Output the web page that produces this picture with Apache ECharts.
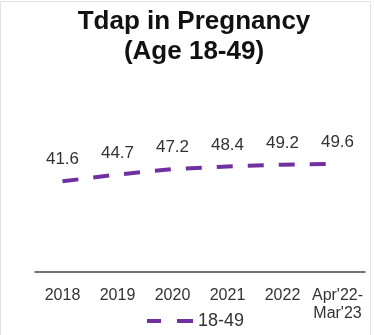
<!DOCTYPE html>
<html>
<head>
<meta charset="utf-8">
<script src="https://cdn.jsdelivr.net/npm/echarts@6/dist/echarts.min.js"></script>
<style>
  html, body { margin: 0; padding: 0; background: #fff; }
  #chart { width: 375px; height: 335px; }
</style>
</head>
<body>
<div id="chart"></div>
<script>
// data
const years = ['2018', '2019', '2020', '2021', '2022', "Apr'22-\nMar'23"];
const uptake = [41.6, 44.7, 47.2, 48.4, 49.2, 49.6];
const seriesName = '18-49';

const purple = '#7030A0';
const font = '"Liberation Sans", Arial, sans-serif';

const chart = echarts.init(document.getElementById('chart'));

const option = {
    animation: false,
    textStyle: { fontFamily: font },
    title: {
        text: 'Tdap in Pregnancy\n(Age 18-49)',
        left: 189,
        textAlign: 'center',
        top: 2,
        textStyle: {
            fontFamily: font,
            fontSize: 26,
            fontWeight: 'bold',
            color: '#111',
            lineHeight: 30
        }
    },
    graphic: [
        {
            type: 'rect',
            shape: { x: 0.5, y: 1.5, width: 370, height: 340 },
            style: { fill: 'none', stroke: '#e2e2e2', lineWidth: 1 },
            silent: true
        }
    ],
    legend: {
        left: 142,
        top: 307,
        itemWidth: 46,
        itemHeight: 4,
        itemGap: 6,
        itemStyle: { color: purple, opacity: 1 },
        textStyle: { fontFamily: font, fontSize: 18, color: '#333' },
        data: [{ name: seriesName, icon: 'path://M0,0h14v4h-14zM30,0h16v4h-16z' }]
    },
    grid: {
        left: 35,
        right: 10,
        top: 54,
        bottom: 63
    },
    xAxis: {
        type: 'category',
        data: years,
        boundaryGap: true,
        axisLine: { lineStyle: { color: '#444', width: 1.5 } },
        axisTick: { show: false },
        axisLabel: {
            interval: 0,
            margin: 15,
            fontFamily: font,
            fontSize: 16,
            color: '#333',
            lineHeight: 18
        }
    },
    yAxis: {
        type: 'value',
        min: 0,
        max: 100,
        show: false
    },
    series: [
        {
            name: seriesName,
            type: 'line',
            data: uptake,
            symbol: 'circle',
            symbolSize: 0.1,
            showSymbol: true,
            lineStyle: {
                color: purple,
                width: 4,
                type: [16, 15],
                cap: 'butt'
            },
            itemStyle: { color: purple },
            label: {
                show: true,
                position: 'top',
                distance: 13,
                fontFamily: font,
                fontSize: 17,
                color: '#333'
            }
        }
    ]
};

chart.setOption(option);
</script>
</body>
</html>
